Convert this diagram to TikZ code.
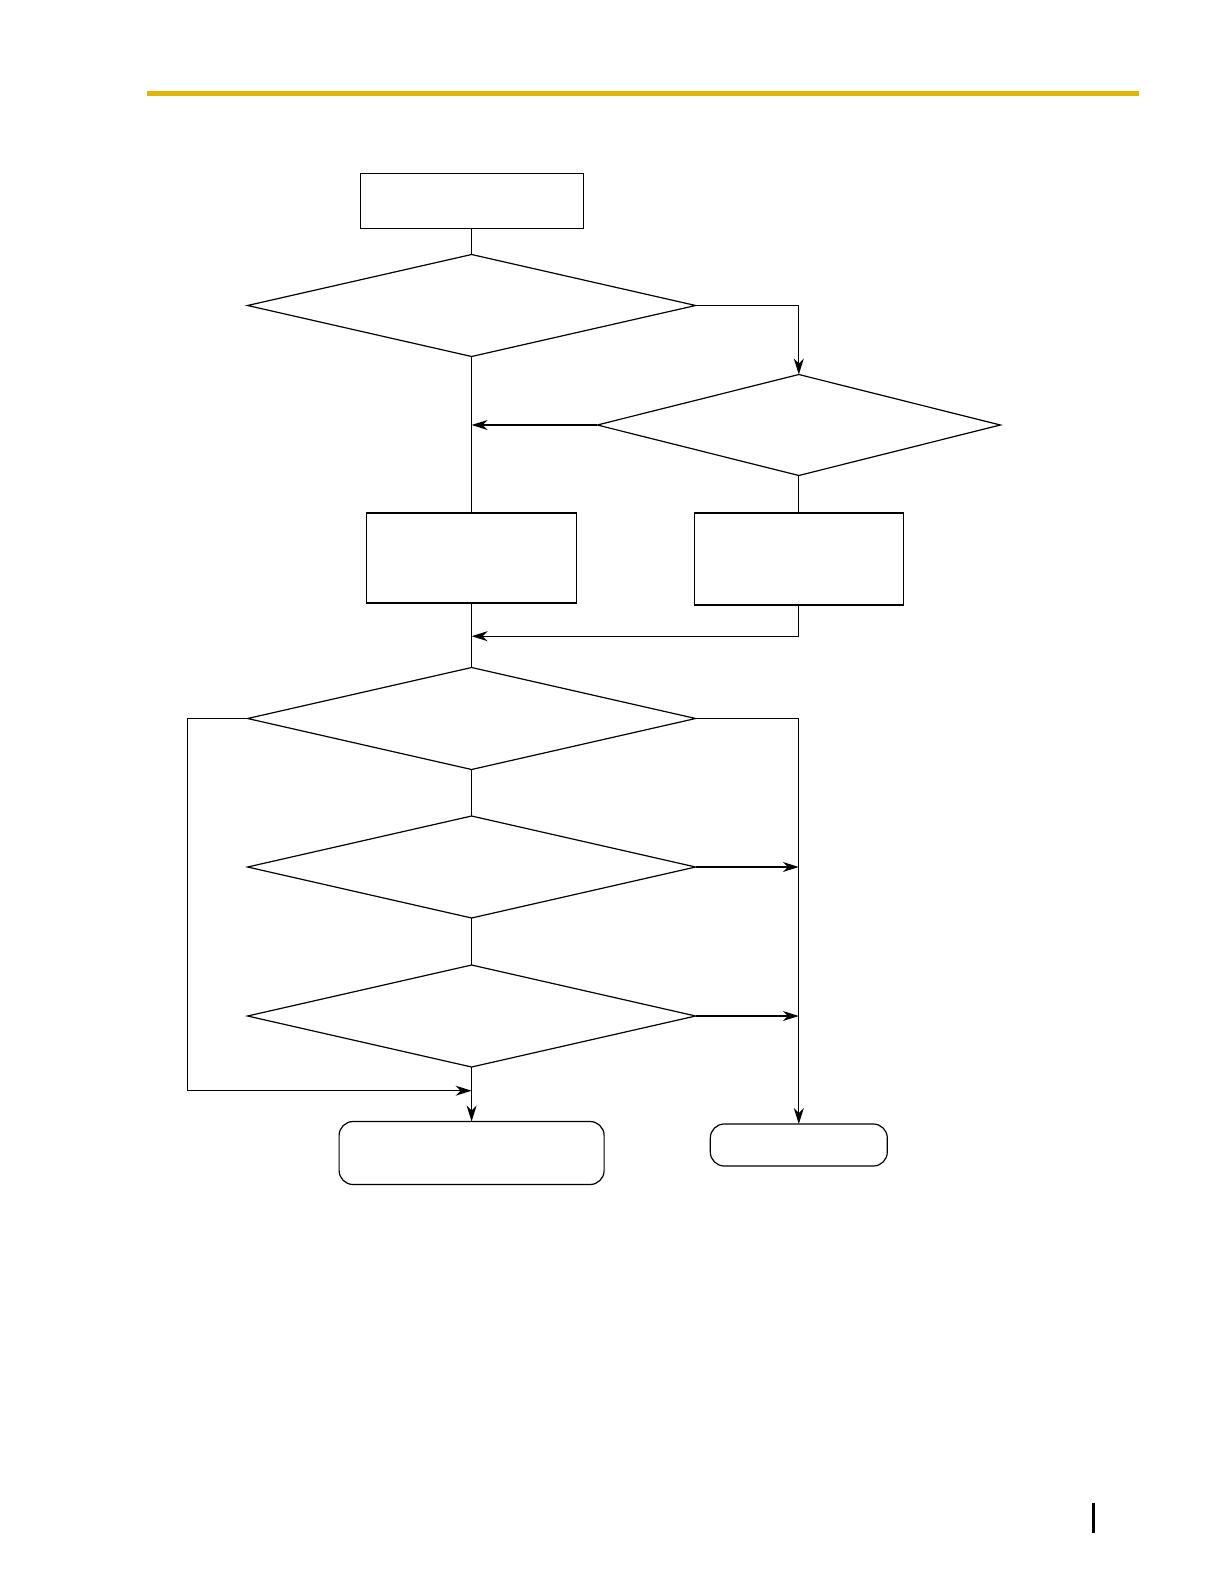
\documentclass[tikz,border=0pt]{standalone}
\usetikzlibrary{shapes.geometric,arrows.meta}
\definecolor{headgold}{RGB}{222,183,8}
\begin{document}
\begin{tikzpicture}[x=0.5pt,y=-0.5pt, line width=0.6pt,
  box/.style={draw, rectangle, inner sep=0pt, outer sep=0pt},
  dec/.style={draw, diamond, inner sep=0pt, outer sep=0pt, minimum width=224pt, minimum height=51pt},
  term/.style={draw, rectangle, rounded corners=7pt, inner sep=0pt, outer sep=0pt},
  arr/.style={-{Stealth[length=8pt,width=5pt,inset=2.5pt]}}]
\useasboundingbox (0,0) rectangle (1224,1584);
\fill[headgold] (147,91.5) rectangle (1139,96.5);
% nodes
\node[box, minimum width=111.5pt, minimum height=27.5pt] (top) at (471.6,201) {};
\node[dec] (d1) at (471.6,305.5) {};
\node[dec, minimum width=201.5pt, minimum height=50.5pt] (d2) at (798.8,425) {};
\node[box, minimum width=105pt, minimum height=45pt] (r2l) at (471.6,558) {};
\node[box, minimum width=104.5pt, minimum height=46pt] (r2r) at (798.8,559) {};
\node[dec] (d3) at (471.6,718.5) {};
\node[dec] (d4) at (471.6,867) {};
\node[dec] (d5) at (471.6,1016) {};
\node[term, minimum width=132.5pt, minimum height=31.5pt] (rr1) at (471.6,1153) {};
\node[term, minimum width=88.5pt, minimum height=21pt] (rr2) at (798.8,1145) {};
% junction coordinates
\coordinate (j1) at (471.6,425);
\coordinate (j2) at (471.6,636.2);
\coordinate (lc) at (187.8,1090.7);
\coordinate (j3) at (471.6,1090.7);
\coordinate (j4) at (798.8,867);
\coordinate (j5) at (798.8,1016);
% connectors
\draw (top.south) -- (d1.north);
\draw[arr] (d1.east) -| (d2.north);
\draw (d1.south) -- (r2l.north);
\draw[arr] (d2.west) -- (j1);
\draw (d2.south) -- (r2r.north);
\draw (r2l.south) -- (d3.north);
\draw[arr] (r2r.south) |- (j2);
\draw (d3.south) -- (d4.north);
\draw (d4.south) -- (d5.north);
\draw[arr] (d5.south) -- (rr1.north);
\draw[arr] (d3.west) -| (lc) -- (j3);
\draw[arr] (d3.east) -| (rr2.north);
\draw[arr] (d4.east) -- (j4);
\draw[arr] (d5.east) -- (j5);
% page marker
\draw[line width=1.2pt] (1093.5,1503) -- (1093.5,1533);
\end{tikzpicture}
\end{document}
